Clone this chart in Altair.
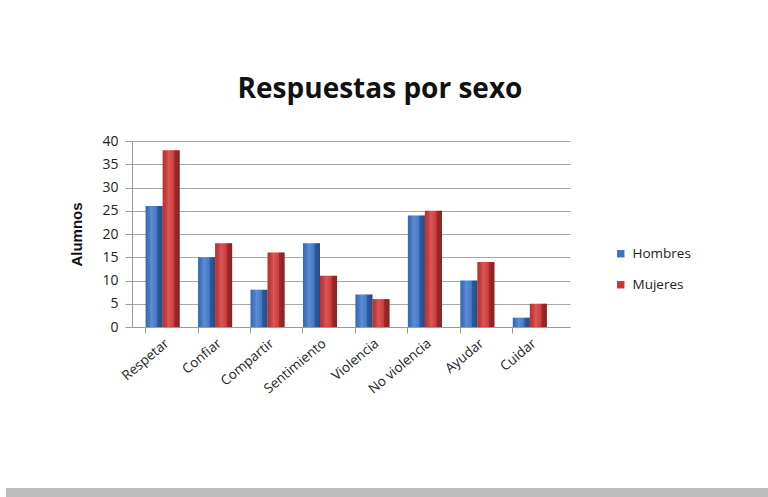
import altair as alt
import pandas as pd

categorias = ["Respetar", "Confiar", "Compartir", "Sentimiento", "Violencia",
              "No violencia", "Ayudar", "Cuidar"]
hombres = [26, 15, 8, 18, 7, 24, 10, 2]
mujeres = [38, 18, 16, 11, 6, 25, 14, 5]
series = ["Hombres", "Mujeres"]
colores = ["#3a74c8", "#cf3434"]
y_ticks = [0, 5, 10, 15, 20, 25, 30, 35, 40]

rows = []
for c, h, m in zip(categorias, hombres, mujeres):
    rows.append({"Categoria": c, "Sexo": "Hombres", "Alumnos": h})
    rows.append({"Categoria": c, "Sexo": "Mujeres", "Alumnos": m})
df = pd.DataFrame(rows)

FONT = "Open Sans"

x_enc = alt.X("Categoria:N", sort=categorias,
              scale=alt.Scale(paddingInner=0.35, paddingOuter=0.35, align=0.37),
              axis=alt.Axis(title=None, labelAngle=-40, labelAlign="right",
                            labelBaseline="top", labelFont=FONT, labelFontSize=13.5,
                            labelColor="#222", labelPadding=3,
                            domainColor="#9a9a9a", tickColor="#9a9a9a",
                            tickSize=6, grid=False, labelOverlap=False,
                            bandPosition=0))
y_enc = alt.Y("Alumnos:Q", scale=alt.Scale(domain=[0, 40], nice=False),
              axis=alt.Axis(values=y_ticks, title="Alumnos", titleFont="Liberation Sans",
                            titleFontSize=15, titleFontWeight="bold", titleColor="#111",
                            titleX=-56, titleY=93, titleAngle=-90,
                            titleAlign="center", titleBaseline="middle",
                            labelFont=FONT, labelFontSize=14, labelColor="#222",
                            labelPadding=7, tickSize=7, tickColor="#9a9a9a",
                            domainColor="#9a9a9a", gridColor="#a8a8a8",
                            gridWidth=1, labelOverlap=False))
xoff = alt.XOffset("Sexo:N", scale=alt.Scale(domain=series, paddingInner=0))

bars = alt.Chart(df).mark_bar().encode(
    x=x_enc, y=y_enc, xOffset=xoff,
    color=alt.Color("Sexo:N", scale=alt.Scale(domain=series, range=colores),
                    legend=alt.Legend(title=None, orient="none", legendX=482,
                                      legendY=106, symbolType="square",
                                      symbolSize=55, symbolStrokeWidth=0,
                                      labelFont=FONT, labelFontSize=13.5,
                                      labelColor="#222", rowPadding=16,
                                      labelOffset=5)),
)

shade = alt.Chart(df).mark_bar(
    color=alt.Gradient(
        gradient="linear", x1=0, x2=1, y1=0, y2=0,
        stops=[alt.GradientStop(color="rgba(0,0,0,0.08)", offset=0),
               alt.GradientStop(color="rgba(255,255,255,0.18)", offset=0.35),
               alt.GradientStop(color="rgba(255,255,255,0.05)", offset=0.62),
               alt.GradientStop(color="rgba(0,0,0,0.22)", offset=0.7),
               alt.GradientStop(color="rgba(0,0,0,0.35)", offset=1)])
).encode(x=x_enc, y=y_enc, xOffset=xoff)

band = alt.Chart(pd.DataFrame({"k": [0]})).mark_rect(color="#bdbdbd").encode(
    x=alt.value(-126), x2=alt.value(636), y=alt.value(347), y2=alt.value(356))

chart = alt.layer(bars, shade, band).properties(
    width=438, height=186,
    title=alt.TitleParams("Respuestas por sexo", font=FONT, fontSize=28,
                          fontWeight="bold", color="#111", dx=29, offset=30),
    autosize=alt.AutoSizeParams(type="none"),
    padding={"left": 132, "top": 141, "right": 198, "bottom": 170},
    background="white",
).configure_view(stroke=None)

chart.save("out.html", embed_options={"renderer": "svg", "actions": False})
